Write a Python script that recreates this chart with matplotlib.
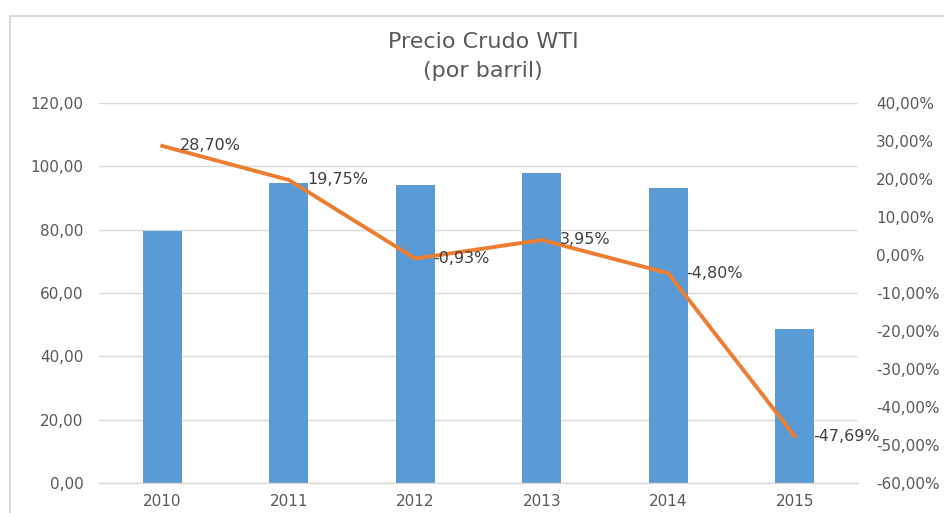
import matplotlib
matplotlib.use("Agg")
import matplotlib.pyplot as plt
from matplotlib.patches import Rectangle
from matplotlib.ticker import FuncFormatter, MultipleLocator

years = ["2010", "2011", "2012", "2013", "2014", "2015"]
price = [79.48, 94.88, 94.05, 97.98, 93.17, 48.66]
change_pct = [28.70, 19.75, -0.93, 3.95, -4.80, -47.69]
title_lines = ["Precio Crudo WTI", "(por barril)"]

BAR = "#5B9BD5"
LINE = "#ED7D31"
TICK = "#595959"
LABEL = "#404040"
GRID = "#D9D9D9"

plt.rcParams['font.family'] = ['DejaVu Sans']

fig = plt.figure(figsize=(9.44, 5.13), dpi=100)
fig.patch.set_facecolor("white")

# chart area border (partly outside the image on right/bottom)
fig.patches.append(Rectangle((10 / 944, -0.05), 1.0, 1 - 16 / 513 + 0.05,
                             transform=fig.transFigure, fill=False,
                             edgecolor="#D9D9D9", linewidth=1.5))

ax = fig.add_axes([99 / 944, 30 / 513, 759 / 944, 380 / 513])
x = list(range(len(years)))

ax.bar(x, price, width=0.31, color=BAR, zorder=2)
ax.set_xlim(-0.5, len(years) - 0.5)
ax.set_ylim(0, 120)
ax.yaxis.set_major_locator(MultipleLocator(20))
ax.yaxis.set_major_formatter(FuncFormatter(lambda v, p: f"{v:.2f}".replace(".", ",")))
ax.set_xticks(x)
ax.set_xticklabels(years)
ax.grid(axis="y", color=GRID, linewidth=1, zorder=0)
ax.set_axisbelow(True)
for s in ["top", "right", "left"]:
    ax.spines[s].set_visible(False)
ax.spines["bottom"].set_color("#D9D9D9")
ax.spines["bottom"].set_linewidth(1)
ax.tick_params(axis="both", length=0, colors=TICK, labelsize=11)
ax.tick_params(axis="y", pad=11)
ax.tick_params(axis="x", pad=8)

ax2 = ax.twinx()
ax2.set_ylim(-60, 40)
ax2.yaxis.set_major_locator(MultipleLocator(10))
ax2.yaxis.set_major_formatter(FuncFormatter(lambda v, p: f"{v:.2f}%".replace(".", ",")))
for s in ["top", "right", "left", "bottom"]:
    ax2.spines[s].set_visible(False)
ax2.tick_params(axis="y", length=0, colors=TICK, labelsize=11, pad=13)
ax2.plot(x, change_pct, color=LINE, linewidth=2.8, solid_joinstyle="miter", zorder=3)
for xi, v in zip(x, change_pct):
    ax2.annotate(f"{v:.2f}%".replace(".", ","), (xi, v), xytext=(13, 0),
                 textcoords="offset points", va="center", ha="left",
                 fontsize=11.5, color=LABEL, zorder=5)

fig.text(483 / 944, 1 - 42 / 513, title_lines[0], ha="center", va="center",
         fontsize=16, color=TICK)
fig.text(483 / 944, 1 - 71 / 513, title_lines[1], ha="center", va="center",
         fontsize=16, color=TICK)

fig.savefig("out.png", dpi=100)
